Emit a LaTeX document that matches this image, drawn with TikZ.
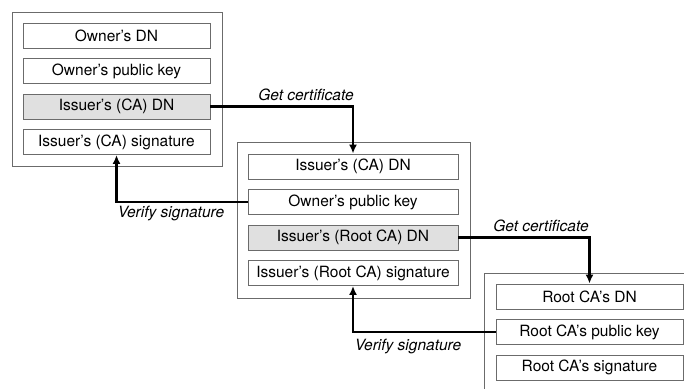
\documentclass[tikz,border=0pt]{standalone}
\usepackage{fontspec}
\setmainfont{TeX Gyre Heros}
\usetikzlibrary{arrows.meta}
\tikzset{field/.style = {draw=mgray, line width=0.9pt, fill=white, minimum height=25pt, inner sep=0pt, font=\fontsize{15.5}{18}\selectfont}}
\tikzset{keyfield/.style = {field, fill=mfill}}
\tikzset{frame/.style = {draw=mgray, line width=1pt}}
\tikzset{link/.style = {line width=2.1pt, -{Latex[length=9pt, width=8pt]}}}
\tikzset{lbl/.style = {font=\fontsize{15.5}{18}\selectfont\itshape, inner sep=0pt}}
\definecolor{mgray}{rgb}{0.42, 0.42, 0.42}
\definecolor{mfill}{rgb}{0.88, 0.88, 0.88}

\begin{document}
\begin{tikzpicture}[x=1pt, y=-1pt]
      \clip (0, 0) rectangle (684, 388);
      \fill [white] (0, 0) rectangle (684, 388);

      % owner certificate
      \draw [frame] (12, 12) rectangle (222, 166);
      \node [field, minimum width=187pt] (own1) at (116.5, 35.5) {Owner's DN};
      \node [field, minimum width=187pt] (own2) at (116.5, 71) {Owner's public key};
      \node [keyfield, minimum width=187pt] (own3) at (116.5, 106.5) {Issuer's (CA) DN};
      \node [field, minimum width=187pt] (own4) at (116.5, 142) {Issuer's (CA) signature};

      % CA certificate
      \draw [frame] (237, 142) rectangle (470, 298);
      \node [field, minimum width=210pt] (ca1) at (353, 166.5) {Issuer's (CA) DN};
      \node [field, minimum width=210pt] (ca2) at (353, 202) {Owner's public key};
      \node [keyfield, minimum width=210pt] (ca3) at (353, 237.5) {Issuer's (Root CA) DN};
      \node [field, minimum width=210pt] (ca4) at (353, 273) {Issuer's (Root CA) signature};

      % root CA certificate
      \draw [frame] (484, 273) rectangle (700, 400);
      \node [field, minimum width=187pt] (root1) at (589.5, 296.5) {Root CA's DN};
      \node [field, minimum width=187pt] (root2) at (589.5, 332) {Root CA's public key};
      \node [field, minimum width=187pt] (root3) at (589.5, 367.5) {Root CA's signature};

      \draw [link] (own3.east) -| (ca1.north);
      \node [lbl] (get1) at (306, 95) {Get certificate};
      \draw [link] (ca2.west) -| (own4.south);
      \node [lbl] (ver1) at (171, 214) {Verify signature};
      \draw [link] (ca3.east) -| (root1.north);
      \node [lbl] (get2) at (541, 226) {Get certificate};
      \draw [link] (root2.west) -| (ca4.south);
      \node [lbl] (ver2) at (408, 347) {Verify signature};
    \end{tikzpicture}
\end{document}
